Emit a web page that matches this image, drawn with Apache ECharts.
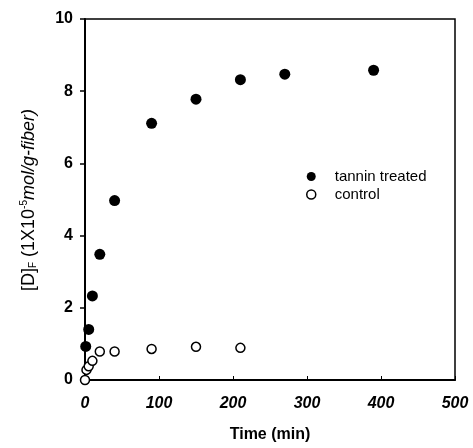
<!DOCTYPE html>
<html><head><meta charset="utf-8">
<script src="https://cdn.jsdelivr.net/npm/echarts@6/dist/echarts.min.js"></script>
<style>html,body{margin:0;padding:0;background:#fff}#c{width:473px;height:448px}</style>
</head><body><div id="c"></div>
<script>
const tanninTime = [1, 5, 10, 20, 40, 90, 150, 210, 270, 390];
const tanninD = [0.93, 1.40, 2.33, 3.48, 4.97, 7.11, 7.78, 8.32, 8.47, 8.58];
const controlTime = [0, 2, 5, 10, 20, 40, 90, 150, 210];
const controlD = [0.0, 0.28, 0.38, 0.53, 0.79, 0.79, 0.86, 0.92, 0.89];
const xTicks = [0, 100, 200, 300, 400, 500];
const yTicks = [0, 2, 4, 6, 8, 10];
const seriesNames = ['tannin treated', 'control'];

const chart = echarts.init(document.getElementById('c'));
const F = 'Liberation Sans, Arial, sans-serif';
chart.setOption({
  animation: false,
  grid: { left: 85, right: 18, top: 19, bottom: 66, show: true, borderColor: '#000', borderWidth: 1.5 },
  xAxis: {
    type: 'value', min: xTicks[0], max: xTicks[xTicks.length - 1], interval: 100,
    name: 'Time (min)', nameLocation: 'middle', nameGap: 47,
    nameTextStyle: { fontFamily: F, fontWeight: 'bold', fontSize: 16, color: '#000' },
    axisLine: { lineStyle: { color: '#000', width: 2 } },
    axisTick: { inside: true, length: 4, lineStyle: { color: '#000', width: 1 } },
    axisLabel: { fontFamily: F, fontWeight: 'bold', fontStyle: 'italic', fontSize: 16, color: '#000', margin: 16 },
    splitLine: { show: false }
  },
  yAxis: {
    type: 'value', min: yTicks[0], max: yTicks[yTicks.length - 1], interval: 2,
    axisLine: { lineStyle: { color: '#000', width: 2 } },
    axisTick: { inside: false, length: 5, lineStyle: { color: '#000', width: 1.5 } },
    axisLabel: { fontFamily: F, fontWeight: 'bold', fontSize: 16, color: '#000', margin: 12 },
    splitLine: { show: false }
  },
  legend: {
    orient: 'vertical', left: 301, top: 164, itemGap: 3, itemWidth: 9, itemHeight: 9,
    textStyle: { fontFamily: F, fontSize: 15, color: '#000', padding: [0, 0, 0, 14] },
    data: [
      { name: seriesNames[0], icon: 'circle', itemStyle: { color: '#000', opacity: 1 } },
      { name: seriesNames[1], icon: 'circle', itemStyle: { color: '#fff', borderColor: '#000', borderWidth: 1.5, opacity: 1 } }
    ]
  },
  graphic: [{
    type: 'text', x: 29, y: 200, rotation: Math.PI / 2, originX: 0, originY: 0,
    style: {
      text: '{n|[D]}{s|F}{n| (1X10}{p|-5}{i|mol/g-fiber)}',
      align: 'center', verticalAlign: 'middle',
      rich: {
        n: { fontFamily: F, fontSize: 18, fill: '#000' },
        s: { fontFamily: F, fontSize: 10, fill: '#000', padding: [9, 0, 0, 0] },
        p: { fontFamily: F, fontSize: 10, fill: '#000', padding: [0, 0, 10, 0] },
        i: { fontFamily: F, fontSize: 18, fontStyle: 'italic', fill: '#000' }
      }
    }
  }],
  series: [
    {
      name: seriesNames[0], type: 'scatter', symbol: 'circle', symbolSize: 11,
      itemStyle: { color: '#000', opacity: 1 },
      data: tanninTime.map((t, i) => [t, tanninD[i]])
    },
    {
      name: seriesNames[1], type: 'scatter', symbol: 'circle', symbolSize: 9,
      itemStyle: { color: '#fff', borderColor: '#000', borderWidth: 1.5, opacity: 1 },
      data: controlTime.map((t, i) => [t, controlD[i]])
    }
  ]
});
</script></body></html>
